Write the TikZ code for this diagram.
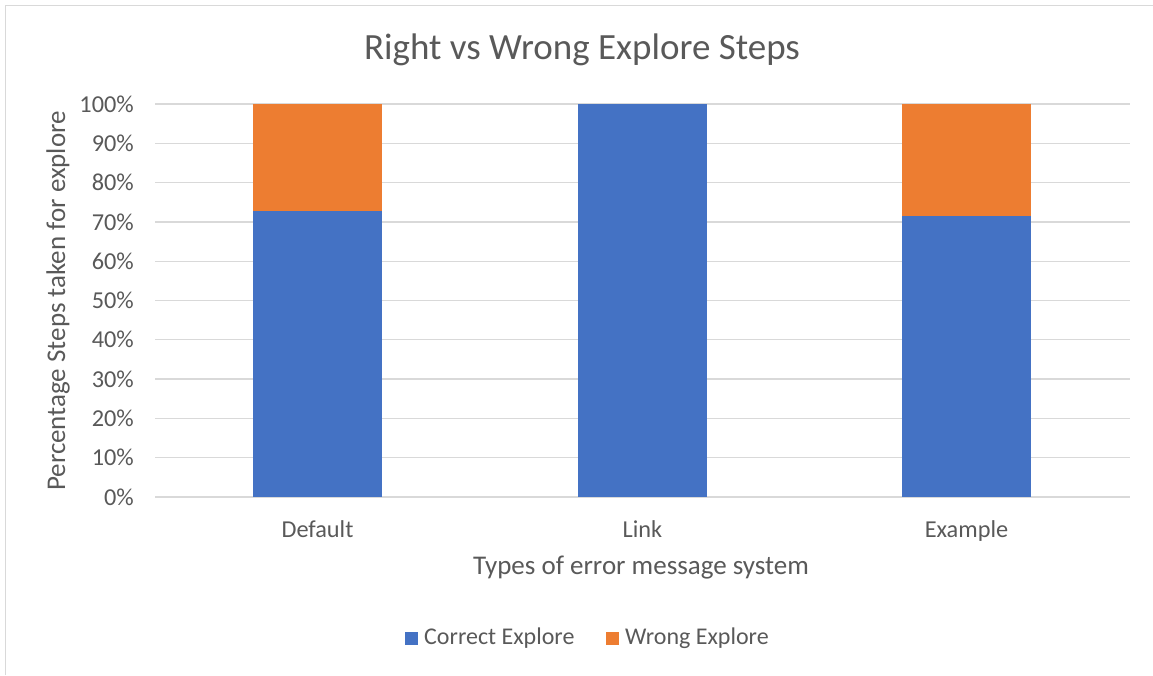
\documentclass[tikz,border=0pt]{standalone}
\usepackage{fontspec}
\setmainfont{Carlito}
\definecolor{gridgray}{HTML}{D9D9D9}
\definecolor{textgray}{HTML}{595959}
\definecolor{barblue}{HTML}{4472C4}
\definecolor{barorange}{HTML}{ED7D31}

\begin{document}
\begin{tikzpicture}[x=1pt,y=-1pt,
    grid/.style={gridgray,line width=1.3pt},
    ticklabel/.style={text=textgray,font=\fontsize{24.3}{29}\selectfont,inner sep=0pt},
    legendlabel/.style={text=textgray,font=\fontsize{24}{29}\selectfont,inner sep=0pt},
    axistitle/.style={text=textgray,font=\fontsize{27}{32}\selectfont,inner sep=0pt},
    legendbox/.style={minimum size=13pt,inner sep=0pt}]
    \useasboundingbox (0,0) rectangle (1153,675);
    % frame of the chart
    \draw[gridgray,line width=1.3pt] (5.5,675) -- (5.5,5.5) -- (1153,5.5);
    \node[text=textgray,font=\fontsize{37}{44}\selectfont] (title) at (582,50) {Right vs Wrong Explore Steps};
    % gridlines and tick labels
    \foreach \p in {0,10,...,100} {
      \draw[grid] (155,{497-3.93*\p}) -- (1130,{497-3.93*\p});
      \node[ticklabel,anchor=east] (tick\p) at (134,{497-3.93*\p}) {\p\%};
    }
    % bars
    \fill[barblue] (253,497) rectangle (382,{497-3.93*72.7});
    \fill[barorange] (253,{497-3.93*72.7}) rectangle (382,104);
    \fill[barblue] (578,497) rectangle (707,104);
    \fill[barblue] (902,497) rectangle (1031,{497-3.93*71.4});
    \fill[barorange] (902,{497-3.93*71.4}) rectangle (1031,104);
    % category labels
    \node[ticklabel,anchor=base] (default) at (317.5,537) {Default};
    \node[ticklabel,anchor=base] (link) at (642.5,537) {Link};
    \node[ticklabel,anchor=base] (example) at (966.5,537) {Example};
    % axis titles
    \node[axistitle] (xtitle) at (641,568) {Types of error message system};
    \node[axistitle,rotate=90] (ytitle) at (58,301) {Percentage Steps taken for explore};
    % legend
    \node[legendbox,fill=barblue] (correctbox) at (411,638) {};
    \node[legendlabel,anchor=west] (correct) at (424,638) {Correct Explore};
    \node[legendbox,fill=barorange] (wrongbox) at (612,638) {};
    \node[legendlabel,anchor=west] (wrong) at (625,638) {Wrong Explore};
\end{tikzpicture}
\end{document}
